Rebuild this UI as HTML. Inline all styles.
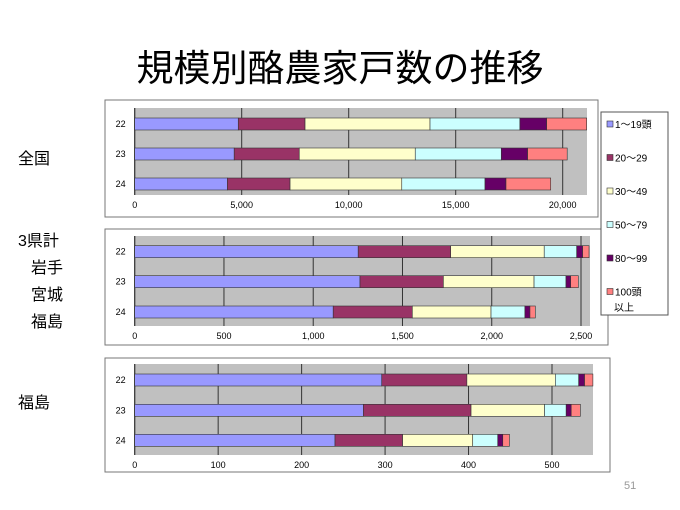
<!DOCTYPE html>
<html><head><meta charset="utf-8"><style>
body{margin:0;width:680px;height:510px;background:#fff;font-family:"Liberation Sans","Noto Sans CJK JP",sans-serif;position:relative;overflow:hidden}
.t{position:absolute;white-space:nowrap}
</style></head><body>
<div class="t" style="left:0;width:680px;text-align:center;top:38px;font-size:37px">規模別酪農家戸数の推移</div>
<div class="t" style="left:18px;top:145px;font-size:16px">全国</div>
<div class="t" style="left:18px;top:227px;font-size:16px">3県計</div>
<div class="t" style="left:31px;top:254px;font-size:16px">岩手</div>
<div class="t" style="left:31px;top:281px;font-size:16px">宮城</div>
<div class="t" style="left:31px;top:308px;font-size:16px">福島</div>
<div class="t" style="left:18px;top:389px;font-size:16px">福島</div>
<div class="t" style="left:624px;top:480px;font-size:11px;color:#999">51</div>
<svg id="c" width="680" height="510" style="position:absolute;left:0;top:0"></svg>
<script>
const years=["22","23","24"];
const classes=["1〜19頭","20〜29","30〜49","50〜79","80〜99","100頭以上"];
const colors=["#9999ff","#993366","#ffffcc","#ccffff","#660066","#ff8080"];
const zenkoku=[[4840,3120,5840,4200,1250,1870],[4650,3040,5420,4020,1230,1850],[4330,2930,5220,3890,980,2090]];
const sanken=[[1252,518,524,182,33,36],[1262,467,508,179,26,43],[1112,443,441,190,28,30]];
const fukushima=[[296,102,106,28,7,10],[274,129,88,26,6,11],[240,81,84,30,6,8]];
const ticks1=[0,5000,10000,15000,20000];
const ticks2=[0,500,1000,1500,2000,2500];
const ticks3=[0,100,200,300,400,500];
const NS="http://www.w3.org/2000/svg";
const svg=document.getElementById('c');
function mk(t,a,p){const e=document.createElementNS(NS,t);for(const k in a)e.setAttribute(k,a[k]);(p||svg).appendChild(e);return e;}
function chart(name,data,ticks,box,plot,x0,pxPerUnit,barTops){
  const g=mk('g',{});
  
  
  const b=mk('rect',{x:box[0],y:box[1],width:box[2],height:box[3],fill:'#fff',stroke:'#777','stroke-width':1},g);
  
  
  const p=mk('rect',{x:x0,y:plot[0],width:plot[2]-x0,height:plot[1]-plot[0],fill:'#c0c0c0'},g);
  
  
  const X=v=>x0+v*pxPerUnit;
  ticks.forEach(t=>{
    const l=mk('line',{x1:X(t),x2:X(t),y1:plot[0],y2:plot[1],stroke:'#333','stroke-width':1},g);
    
    
    const tx=mk('text',{x:X(t),y:plot[1]+13,'font-size':9,'text-anchor':'middle',fill:'#000'},g);
    tx.textContent=t.toLocaleString('en-US');
    
    
  });
  mk('line',{x1:x0,x2:x0,y1:plot[0],y2:plot[1],stroke:'#333'},g);
  data.forEach((row,i)=>{
    let acc=0;const y=barTops[i];
    row.forEach((v,j)=>{
      const r=mk('rect',{x:X(acc),y:y,width:v*pxPerUnit,height:12,fill:colors[j],stroke:'#333','stroke-width':0.6},g);
      
      
      acc+=v;
    });
    const yl=mk('text',{x:x0-9,y:y+9,'font-size':9,'text-anchor':'end'},g);
    yl.textContent=years[i];
    
    
  });
}
chart('chart-zenkoku',zenkoku,ticks1,[105,100,493,117],[108,195,587],134.7,107/5000,[118,148,178]);
chart('chart-3ken',sanken,ticks2,[105,229,503,116],[236,326,590],134.7,446.3/2500,[245.7,275.7,306]);
chart('chart-fukushima',fukushima,ticks3,[105,358,505,114],[364,455,593],134.7,417.3/500,[374,404.3,434.3]);
// legend
const lg=mk('g',{});


mk('rect',{x:601,y:112,width:67,height:203,fill:'#fff',stroke:'#555'},lg);
const labels=["1〜19頭","20〜29","30〜49","50〜79","80〜99","100頭"];
labels.forEach((t,i)=>{
  const y=127+i*33.5;
  const s=mk('rect',{x:607,y:y-6,width:6,height:6,fill:colors[i],stroke:'#333','stroke-width':0.6},lg);
  
  
  const tx=mk('text',{x:615,y:y+1,'font-size':10},lg);
  tx.textContent=t;
  
  
});
const ij=mk('text',{x:614,y:311,'font-size':10},lg);
ij.textContent="以上";


</script>
</body></html>
